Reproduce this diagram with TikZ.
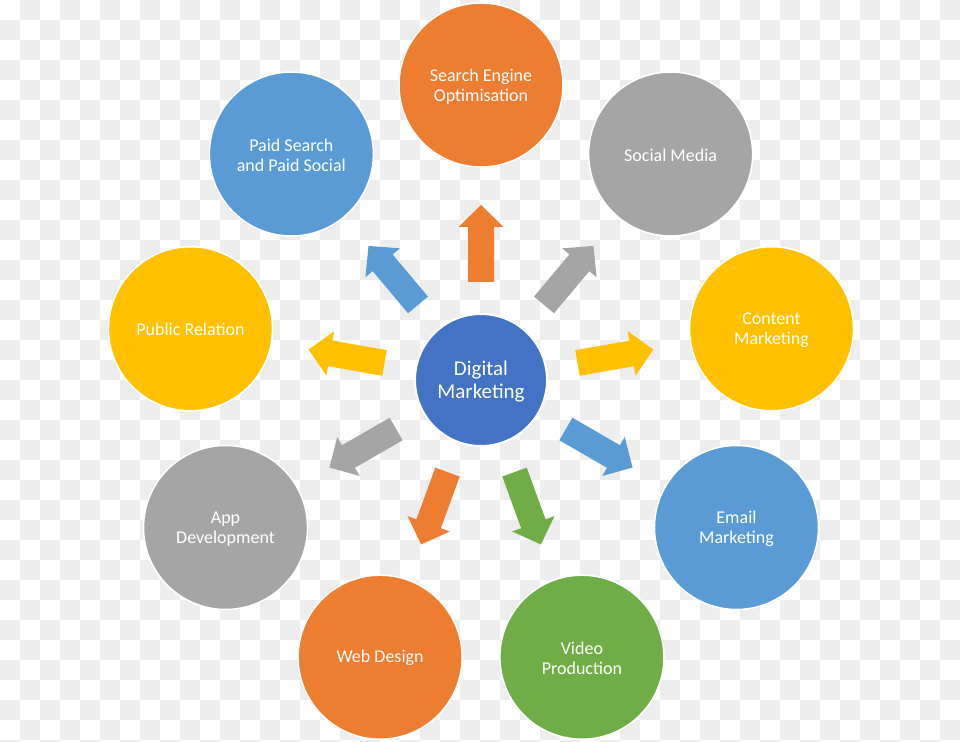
\documentclass[tikz,border=0pt]{standalone}
\usepackage{fontspec}
\setmainfont{Carlito}
\usetikzlibrary{calc}
\definecolor{cOrange}{HTML}{ED7D31}
\definecolor{cGray}{HTML}{A5A5A5}
\definecolor{cYellow}{HTML}{FFC000}
\definecolor{cBlue}{HTML}{5B9BD5}
\definecolor{cGreen}{HTML}{70AD47}
\definecolor{cCenter}{HTML}{4472C4}
\definecolor{cCheck}{HTML}{EDEDED}
\tikzset{
  bub/.style={circle, draw=white, line width=1.5pt, minimum size=164pt, inner sep=0pt,
    text=white, align=center, font=\fontsize{18}{20}\selectfont},
  hub/.style={circle, draw=white, line width=2pt, minimum size=132pt, inner sep=0pt,
    fill=cCenter, text=white, align=center, font=\fontsize{21}{23.5}\selectfont},
}
\newcommand\blockarrow[2]{%
  \begin{scope}[shift={(dm.center)}, rotate=#1]
    \fill[#2] (98,-13) -- (153,-13) -- (153,-22.5) -- (175,0) -- (153,22.5) -- (153,13) -- (98,13) -- cycle;
  \end{scope}}
\begin{document}
\begin{tikzpicture}[x=1pt,y=1pt]
\useasboundingbox (0,0) rectangle (960,741);
\fill[white] (0,0) rectangle (960,741);
\begin{scope}
\clip (0,0) rectangle (960,741);
\foreach \j in {0,...,37} {
  \pgfmathsetmacro\xo{20*(1-mod(\j,2))}
  \foreach \k in {0,...,23} {
    \fill[cCheck] ({\xo+40*\k},{741-20*\j-20}) rectangle ++(20,20);
  }
}
\end{scope}
\node[hub] (dm) at (481,361) {};
\node[text=white, align=center, font=\fontsize{21}{23.5}\selectfont] (dmt) at ($(dm)+(0,-1.5)$) {Digital\\Marketing};
\node[bub, fill=cOrange] (seo) at ($(dm)+(90:295)$) {};
\node[bub, fill=cGray] (sm) at ($(dm)+(50:295)$) {};
\node[bub, fill=cYellow] (cm) at ($(dm)+(10:295)$) {};
\node[bub, fill=cBlue] (em) at ($(dm)+(-30:295)$) {};
\node[bub, fill=cGreen] (vp) at ($(dm)+(-70:295)$) {};
\node[bub, fill=cOrange] (wd) at ($(dm)+(-110:295)$) {};
\node[bub, fill=cGray] (ad) at ($(dm)+(-150:295)$) {};
\node[bub, fill=cYellow] (pr) at ($(dm)+(170:295)$) {};
\node[bub, fill=cBlue] (ps) at ($(dm)+(130:295)$) {};
\tikzset{lbl/.style={text=white, align=center, font=\fontsize{18}{20}\selectfont}}
\node[lbl] (seot) at ($(seo)+(0,-1.5)$) {Search Engine\\Optimisation};
\node[lbl] (smt) at ($(sm)+(0,-1)$) {Social Media};
\node[lbl] (cmt) at ($(cm)+(0,-1.5)$) {Content\\Marketing};
\node[lbl] (emt) at ($(em)+(0,-1.5)$) {Email\\Marketing};
\node[lbl] (vpt) at ($(vp)+(0,-1.5)$) {Video\\Production};
\node[lbl] (wdt) at ($(wd)+(0,-1)$) {Web Design};
\node[lbl] (adt) at ($(ad)+(0,-1.5)$) {App\\Development};
\node[lbl] (prt) at ($(pr)+(0,-1)$) {Public Relation};
\node[lbl] (pst) at ($(ps)+(0,-1.5)$) {Paid Search\\and Paid Social};
\blockarrow{90}{cOrange}
\blockarrow{50}{cGray}
\blockarrow{10}{cYellow}
\blockarrow{-30}{cBlue}
\blockarrow{-70}{cGreen}
\blockarrow{-110}{cOrange}
\blockarrow{-150}{cGray}
\blockarrow{170}{cYellow}
\blockarrow{130}{cBlue}
\end{tikzpicture}
\end{document}
